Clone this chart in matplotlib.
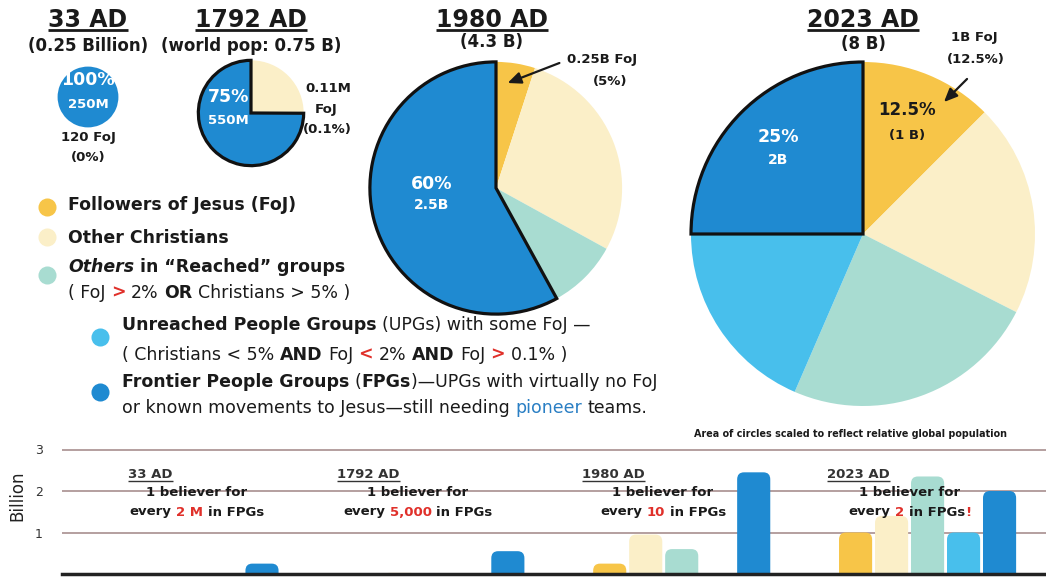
import numpy as np
import matplotlib.pyplot as plt
from matplotlib.patches import FancyBboxPatch

plt.rcParams['font.family'] = ['DejaVu Sans']

# groups: FoJ, other Christians, others in reached groups, UPGs, FPGs
groups = ['Followers of Jesus (FoJ)', 'Other Christians', 'Others in reached groups', 'UPGs', 'FPGs']
colors = ['#f7c548', '#fbefc8', '#a8dcd1', '#48bfec', '#1f8ad1']

years = ['33 AD', '1792 AD', '1980 AD', '2023 AD']
pop_billion = [0.25, 0.75, 4.3, 8.0]
pop_labels = ['(0.25 Billion)', '(world pop: 0.75 B)', '(4.3 B)', '(8 B)']

# pie shares in percent
pie_33 = [0, 0, 0, 0, 100]
pie_1792 = [0.1, 25, 0, 0, 75]
pie_1980 = [5, 28, 9, 0, 58]
pie_2023 = [12.5, 20, 24, 18.5, 25]

# bar heights in billion
bars_33 = [0, 0, 0, 0, 0.25]
bars_1792 = [0, 0.03, 0, 0, 0.55]
bars_1980 = [0.25, 0.95, 0.6, 0, 2.45]
bars_2023 = [1.0, 1.4, 2.35, 1.0, 2.0]

ratio_labels = ['2 M', '5,000', '10', '2']

W, H = 1046, 579
fig = plt.figure(figsize=(W / 100, H / 100), dpi=100)


def px_axes(x0, y0, w, h, **kw):
    return fig.add_axes([x0 / W, 1 - (y0 + h) / H, w / W, h / H], **kw)


# ---------------- bar chart ----------------
unit = 41.5
bx = px_axes(62, 574 - 3.2 * unit, 984, 3.2 * unit)
bx.set_xlim(-1.556, 25.78)
bx.set_ylim(0, 3.2)
for g, vals in enumerate([bars_33, bars_1792, bars_1980, bars_2023]):
    for k, v in enumerate(vals):
        x = g * 6.83 + k
        bx.add_patch(FancyBboxPatch((x - 0.46, -0.5), 0.92, v + 0.5,
                                    boxstyle='round,pad=0,rounding_size=0.19',
                                    mutation_aspect=0.89, fc=colors[k], ec='none', zorder=2))
bx.set_yticks([1, 2, 3])
bx.set_xticks([])
bx.yaxis.grid(True, color='#a08585', lw=1.1)
bx.set_axisbelow(True)
bx.tick_params(axis='y', length=0, pad=14, labelsize=9, labelcolor='#333')
for s in bx.spines.values():
    s.set_visible(False)
bx.axhline(0, color='#222', lw=2.5, clip_on=False, zorder=3)
bx.set_ylabel('Billion', fontsize=12, color='#222')
bx.yaxis.set_label_coords(-0.036, 0.59)

# ---------------- pies ----------------
centers = [(88, 97), (251, 113), (496, 188), (863, 234)]
scale = 172
for (cx, cy), shares, pop in zip(centers, [pie_33, pie_1792, pie_1980, pie_2023], pop_billion):
    ax = px_axes(cx - 180, cy - 180, 360, 360)
    wedges, _ = ax.pie(shares, radius=np.sqrt(pop / 8), colors=colors, startangle=90,
                       counterclock=False, wedgeprops=dict(lw=0))
    if pop > 0.25:
        wedges[4].set_edgecolor('#111')
        wedges[4].set_linewidth(2.3)
        wedges[4].set_zorder(5)
    ax.set_xlim(-180 / scale, 180 / scale)
    ax.set_ylim(-180 / scale, 180 / scale)

# ---------------- text overlay ----------------
ov = fig.add_axes([0, 0, 1, 1], zorder=10)
ov.set_xlim(0, W)
ov.set_ylim(H, 0)
ov.axis('off')
renderer = fig.canvas.get_renderer()


def adv(s, size, **kw):
    t = ov.text(0, 0, '|' + s + '|', fontsize=size, **kw)
    t2 = ov.text(0, 0, '||', fontsize=size, **kw)
    w = t.get_window_extent(renderer).width - t2.get_window_extent(renderer).width
    t.remove()
    t2.remove()
    return w


def rich(x, y, parts, size, ha='left'):
    widths = [adv(s, size, **kw) for s, kw in parts]
    x0 = x - sum(widths) / 2 if ha == 'center' else x
    for (s, kw), w in zip(parts, widths):
        lead = s[:len(s) - len(s.lstrip())]
        off = adv(lead, size, **kw) if lead else 0
        if s.strip():
            ov.text(x0 + off, y, s.strip(), fontsize=size, va='center', ha='left', **kw)
        x0 += w


def underline(t, lw, off):
    bb = t.get_window_extent(renderer)
    inv = ov.transData.inverted()
    (x0, y0), (x1, _) = inv.transform([(bb.x0, bb.y0), (bb.x1, bb.y1)])
    ov.plot([x0, x1], [y0 + off, y0 + off], color=t.get_color(), lw=lw, solid_capstyle='butt')


title_pos = [(88, 20), (251, 20), (492, 20), (863, 20)]
sub_y = [46, 46, 42, 44]
for (x, y), yr, lab, sy in zip(title_pos, years, pop_labels, sub_y):
    t = ov.text(x, y, yr, fontsize=17, fontweight='bold', ha='center', va='center', color='#1a1a1a')
    underline(t, 2, -2)
    ov.text(x, sy, lab, fontsize=12, fontweight='bold', ha='center', va='center', color='#1a1a1a')

B = dict(fontweight='bold', color='#1a1a1a')
Wb = dict(fontweight='bold', color='white')
ov.text(88, 80, '100%', fontsize=12.5, ha='center', va='center', **Wb)
ov.text(88, 104, '250M', fontsize=9.5, ha='center', va='center', **Wb)
ov.text(88, 137, '120 FoJ', fontsize=9.5, ha='center', va='center', **B)
ov.text(88, 157, '(0%)', fontsize=9.5, ha='center', va='center', **B)

ov.text(229, 97, '75%', fontsize=12.5, ha='center', va='center', **Wb)
ov.text(228, 120, '550M', fontsize=9.5, ha='center', va='center', **Wb)
ov.text(328, 89, '0.11M', fontsize=9.5, ha='center', va='center', **B)
ov.text(326, 110, 'FoJ', fontsize=9.5, ha='center', va='center', **B)
ov.text(327, 130, '(0.1%)', fontsize=9.5, ha='center', va='center', **B)

ov.text(432, 184, '60%', fontsize=12.5, ha='center', va='center', **Wb)
ov.text(432, 205, '2.5B', fontsize=10, ha='center', va='center', **Wb)
ov.text(602, 60, '0.25B FoJ', fontsize=9.5, ha='center', va='center', **B)
ov.text(610, 81, '(5%)', fontsize=9.5, ha='center', va='center', **B)
ov.annotate('', xy=(505, 84), xytext=(562, 62),
            arrowprops=dict(arrowstyle='-|>,head_width=0.35,head_length=0.8', color='#1a1a1a', lw=1.6))

ov.text(974, 38, '1B FoJ', fontsize=9.5, ha='center', va='center', **B)
ov.text(976, 60, '(12.5%)', fontsize=9.5, ha='center', va='center', **B)
ov.annotate('', xy=(942, 104), xytext=(969, 77),
            arrowprops=dict(arrowstyle='-|>,head_width=0.35,head_length=0.8', color='#1a1a1a', lw=1.6))
ov.text(907, 110, '12.5%', fontsize=12, ha='center', va='center', **B)
ov.text(907, 135, '(1 B)', fontsize=9.5, ha='center', va='center', **B)
ov.text(778, 137, '25%', fontsize=12.5, ha='center', va='center', **Wb)
ov.text(778, 160, '2B', fontsize=10, ha='center', va='center', **Wb)

ov.text(851, 434, 'Area of circles scaled to reflect relative global population',
        fontsize=6.9, ha='center', va='center', fontweight='bold', color='#1a1a1a',
        family=['Liberation Sans Narrow', 'DejaVu Sans'])

# legend
R = dict(color='#1a1a1a')
RB = dict(color='#e0302a', fontweight='bold')
dots = [(47, 207), (47, 237), (47, 275), (100, 337), (100, 392)]
for (x, y), c in zip(dots, colors):
    ov.plot(x, y, 'o', ms=13, color=c, mec='none')
ls = 12.5
rich(68, 205, [('Followers of Jesus (FoJ)', B)], ls)
rich(68, 238, [('Other Christians', B)], ls)
rich(68, 267, [('Others', dict(B, style='italic')), (' in \u201cReached\u201d groups', B)], ls)
rich(68, 293, [('( FoJ ', R), ('>', RB), (' 2% ', R), ('OR', B), (' Christians > 5% )', R)], ls)
rich(122, 325, [('Unreached People Groups', B), (' (UPGs) with some FoJ \u2014', R)], ls)
rich(122, 355, [('( Christians < 5% ', R), ('AND', B), (' FoJ ', R), ('<', RB), (' 2% ', R),
                ('AND', B), (' FoJ ', R), ('>', RB), (' 0.1% )', R)], ls)
rich(122, 382, [('Frontier People Groups', B), (' (', R), ('FPGs', B),
                (')\u2014UPGs with virtually no FoJ', R)], ls)
rich(122, 408, [('or known movements to Jesus\u2014still needing ', R),
                ('pioneer', dict(color='#2a7fc4')), (' teams.', R)], ls)

# bar chart annotations
year_left = [128, 337, 582, 827]
ratio_x = [197, 418, 663, 910]
for x, yr in zip(year_left, years):
    t = ov.text(x, 475, yr, fontsize=9.5, fontweight='bold', ha='left', va='center', color='#333')
    underline(t, 1, -1)
for x, r, g in zip(ratio_x, ratio_labels, range(4)):
    rich(x, 493, [('1 believer for', B)], 9.5, ha='center')
    parts = [('every ', B), (r, dict(RB, color='#e0302a')), (' in FPGs', B)]
    if g == 3:
        parts.append(('!', RB))
    rich(x, 512, parts, 9.5, ha='center')

fig.savefig('out.png', dpi=100)
